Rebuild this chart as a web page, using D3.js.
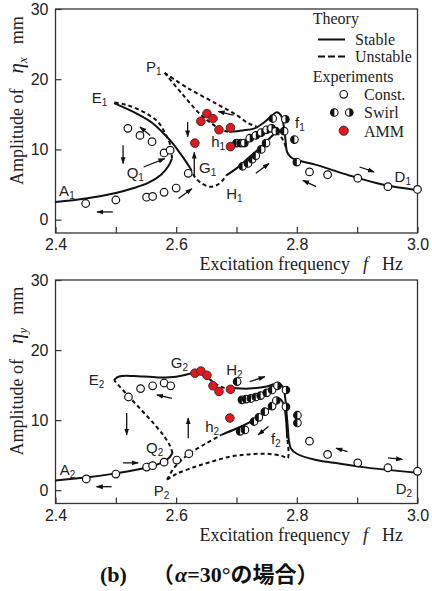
<!DOCTYPE html>
<html lang="ja">
<head>
<meta charset="utf-8">
<title>Amplitude response (alpha = 30 deg)</title>
<script src="https://cdn.jsdelivr.net/npm/d3@7"></script>
<style>
  body { margin: 0; background: #fff; }
  svg { display: block; }
  .tick text { font-family: "Liberation Sans", Arial, sans-serif; font-size: 16px; fill: #222; }
  .tick line { stroke: #333; stroke-width: 1.2; }
  .domain { display: none; }
  .frame { fill: none; stroke: #333; stroke-width: 1.3; }
  .axis-title { font-family: "Liberation Serif", "Times New Roman", serif; font-size: 18px; fill: #222; }
  .legend text { font-family: "Liberation Serif", "Times New Roman", serif; font-size: 16px; fill: #222; }
  .stable { fill: none; stroke: #111; stroke-width: 2; }
  .unstable { fill: none; stroke: #111; stroke-width: 2; stroke-dasharray: 4,3; }
  .lbl { font-family: "Liberation Sans", Arial, sans-serif; font-size: 15px; fill: #222; }
  .arrow { stroke: #111; stroke-width: 1.3; }
  .const { fill: #fff; stroke: #111; stroke-width: 1.2; }
  .amm { fill: #e8151d; stroke: #333; stroke-width: 1; }
  .caption { font-size: 22px; font-weight: bold; fill: #111; }
</style>
</head>
<body>
<div id="chart"></div>
<script>

var freqTicks = [2.4, 2.5, 2.6, 2.7, 2.8, 2.9, 3.0],
    freqLabels = [2.4, 2.6, 2.8, 3.0],
    ampTicks = [0, 10, 20, 30];

// ---- upper panel: eta_x ----
var xStable = [
  [[2.4,2.5],[2.45,3.0],[2.5,3.8],[2.53,4.5],[2.555,5.3],[2.575,6.4],[2.587,7.6],[2.593,8.7]],
  [[2.497,16.6],[2.53,15.3],[2.56,13.8],[2.58,12.2],[2.595,10.8],[2.607,9.4],[2.616,8.3],[2.623,7.4]],
  [[2.683,6.3],[2.70,7.3],[2.72,8.8],[2.74,10.3],[2.755,11.6],[2.765,12.4]],
  [[2.688,12.5],[2.71,12.7],[2.73,13.0],[2.745,13.8],[2.757,14.7],[2.767,15.3],[2.774,14.8],[2.778,13.5],
   [2.781,11.5],[2.784,9.6],[2.79,8.9],[2.80,8.5],[2.832,7.8],[2.887,6.3],[2.942,5.0],[3.0,4.2]]
];
var xUnstable = [
  [[2.593,8.7],[2.592,10.0],[2.588,11.2],[2.580,12.6],[2.570,13.9],[2.555,14.9],[2.535,15.8],[2.515,16.4],[2.497,16.7]],
  [[2.623,7.4],[2.63,6.2],[2.64,5.3],[2.655,4.7],[2.667,4.9],[2.676,5.5],[2.683,6.3]],
  [[2.765,12.4],[2.772,12.0],[2.779,11.0],[2.783,10.0]],
  [[2.581,20.9],[2.61,17.9],[2.64,15.0],[2.66,13.6],[2.675,12.8],[2.688,12.5]],
  [[2.581,20.9],[2.62,18.7],[2.667,16.5],[2.70,14.9],[2.72,13.7],[2.733,13.3]]
];
var xConst = [[2.45,2.3],[2.50,2.8],[2.551,3.2],[2.561,3.3],[2.58,3.9],[2.60,4.5],[2.62,6.6],
  [2.52,13.0],[2.54,12.0],[2.56,11.1],[2.58,9.5],[2.59,9.9],
  [2.821,6.8],[2.851,6.4],[2.901,5.9],[2.951,4.7],[3.0,4.3]];
var xSwirl = [[2.700,10.9,"L"],[2.707,10.9,"L"],[2.713,10.9,"R"],[2.710,7.6,"L"],[2.719,8.0,"L"],[2.726,8.6,"L"],
  [2.732,9.1,"L"],[2.741,10.0,"L"],[2.749,10.9,"L"],[2.722,11.6,"R"],[2.732,12.0,"R"],[2.741,12.4,"R"],
  [2.750,12.8,"R"],[2.758,13.0,"R"],[2.765,12.6,"R"],[2.760,14.4,"L"],[2.781,14.3,"R"],[2.779,12.6,"L"],
  [2.796,11.4,"L"],[2.800,8.2,"L"]];
var xAmm = [[2.631,10.9],[2.641,14.0],[2.651,15.1],[2.661,14.4],[2.671,12.8],[2.690,13.1],[2.690,10.4]];
var xArrows = [[2.495,1.1,2.469,1.1],[2.512,10.6,2.512,8.0],[2.546,7.5,2.581,8.7],[2.604,3.0,2.626,4.4],
  [2.630,6.2,2.630,9.6],[2.619,13.9,2.619,11.8],[2.557,12.0,2.540,13.2],[2.695,14.9,2.670,15.4],
  [2.732,6.6,2.754,8.0],[2.832,4.7,2.810,5.6],[2.904,7.5,2.928,6.8]];
var xLabels = [["A1",2.406,3.3],["Q1",2.518,5.9],["E1",2.460,16.6],["P1",2.550,21.0],["G1",2.638,6.6],
  ["H1",2.683,3.0],["h1",2.658,10.4],["f1",2.797,13.0],["D1",2.962,5.4]];

// ---- lower panel: eta_y ----
var yStable = [
  [[2.4,1.4],[2.45,1.8],[2.5,2.4],[2.55,3.2],[2.575,3.9],[2.588,4.6],[2.594,5.3]],
  [[2.497,15.7],[2.502,16.1],[2.51,16.3],[2.53,16.3],[2.57,16.1],[2.60,16.2],[2.635,16.9]],
  [[2.675,7.9],[2.70,8.8],[2.72,9.6],[2.74,10.6],[2.755,11.8],[2.765,12.9],[2.771,13.1],[2.777,12.5],[2.781,11.0],[2.784,7.4]],
  [[2.695,14.6],[2.72,14.5],[2.75,14.8],[2.765,15.2],[2.773,15.1],[2.778,14.5],[2.781,13],[2.783,11],[2.785,9],
   [2.787,7],[2.79,6.0],[2.80,5.2],[2.832,4.3],[2.87,3.8],[2.9,3.4],[2.95,2.9],[3.0,2.5]]
];
var yUnstable = [
  [[2.594,5.3],[2.59,6.3],[2.58,7.7],[2.565,9.3],[2.545,11.2],[2.52,13.5],[2.497,15.7]],
  [[2.635,16.9],[2.65,16.2],[2.665,15.2],[2.68,14.6],[2.695,14.6]],
  [[2.585,1.5],[2.595,3.0],[2.61,4.4],[2.625,5.4],[2.65,6.7],[2.675,7.9]],
  [[2.585,1.5],[2.60,2.3],[2.63,3.3],[2.66,4.1],[2.69,4.8],[2.72,5.1],[2.75,5.2],[2.775,4.9],[2.785,4.6],[2.784,7.4]]
];
var yConst = [[2.451,1.6],[2.50,2.3],[2.551,3.3],[2.561,3.5],[2.58,4.0],[2.601,4.3],[2.621,5.2],
  [2.521,13.3],[2.541,14.5],[2.561,14.9],[2.58,15.3],[2.591,14.9],
  [2.821,7.0],[2.851,5.1],[2.901,3.9],[2.951,3.2],[3.0,2.7]];
var ySwirl = [[2.701,15.5,"L"],[2.709,12.9,"L"],[2.716,13.0,"L"],[2.724,13.1,"L"],[2.732,13.3,"L"],[2.740,13.5,"L"],
  [2.750,13.9,"L"],[2.759,14.3,"L"],[2.768,14.9,"R"],[2.782,14.3,"R"],
  [2.706,8.4,"L"],[2.714,8.6,"L"],[2.729,9.8,"L"],[2.737,10.4,"L"],[2.747,11.2,"L"],[2.759,12.0,"L"],
  [2.766,12.8,"R"],[2.782,11.9,"R"],[2.801,10.7,"L"],[2.801,9.6,"L"]];
var yAmm = [[2.631,16.7],[2.641,17.0],[2.651,16.4],[2.661,14.9],[2.671,14.1],[2.690,14.4],[2.689,10.3]];
var yArrows = [[2.512,3.9,2.537,3.9],[2.493,0.5,2.468,0.5],[2.518,11.0,2.518,7.9],[2.620,7.4,2.620,10.3],
  [2.593,13.1,2.568,13.6],[2.722,15.5,2.747,16.2],[2.753,9.1,2.736,7.9],[2.884,5.5,2.865,6.0],[2.951,4.6,2.975,4.4]];
var yLabels = [["A2",2.407,2.2],["Q2",2.550,5.3],["E2",2.455,15.0],["P2",2.563,-0.9],["G2",2.591,17.4],
  ["H2",2.683,16.4],["h2",2.648,8.3],["f2",2.757,6.6],["D2",2.964,-0.6]];

var width = 432, height = 591;

var svg = d3.select("#chart").append("svg")
            .attr("width", width)
            .attr("height", height);

svg.append("defs").append("marker")
   .attr("id", "head")
   .attr("viewBox", "0 0 10 10")
   .attr("refX", 9).attr("refY", 5)
   .attr("markerUnits", "userSpaceOnUse")
   .attr("markerWidth", 7).attr("markerHeight", 7)
   .attr("orient", "auto")
   .append("path").attr("d", "M0,1.5L10,5L0,8.5Z").attr("fill", "#111");

var x = d3.scaleLinear().domain([2.4, 3.0]).range([55.5, 417.5]);

var panels = [
  {top: 9, bottom: 233, sym: "x", stable: xStable, unstable: xUnstable, cons: xConst, swirl: xSwirl,
   amm: xAmm, arrows: xArrows, labels: xLabels, legend: true},
  {top: 280, bottom: 503.5, sym: "y", stable: yStable, unstable: yUnstable, cons: yConst, swirl: ySwirl,
   amm: yAmm, arrows: yArrows, labels: yLabels, legend: false}
];

function drawSwirl(sel, side) {
  var r = 3.8;
  sel.append("circle").attr("r", r).attr("fill", "#fff").attr("stroke", "#111").attr("stroke-width", 1.1);
  sel.append("path")
     .attr("d", "M0," + (-r) + "A" + r + "," + r + " 0 0 " + (side === "L" ? 0 : 1) + " 0," + r + "Z")
     .attr("fill", "#111");
}

panels.forEach(function(p) {
  var y = d3.scaleLinear().domain([-1.9, 30]).range([p.bottom, p.top]);
  var g = svg.append("g");

  var line = d3.line()
               .x(function(d) { return x(d[0]); })
               .y(function(d) { return y(d[1]); })
               .curve(d3.curveCatmullRom.alpha(0.5));

  // axes with inward ticks
  g.append("g")
   .attr("transform", "translate(0," + p.bottom + ")")
   .call(d3.axisBottom(x).tickValues(freqTicks).tickSize(-6).tickPadding(6)
           .tickFormat(function(d) { return freqLabels.indexOf(d) >= 0 ? d3.format(".1f")(d) : ""; }));

  g.append("g")
   .attr("transform", "translate(" + x.range()[0] + ",0)")
   .call(d3.axisLeft(y).tickValues(ampTicks).tickSize(-6).tickPadding(7));

  g.append("rect").attr("class", "frame")
   .attr("x", x.range()[0]).attr("y", p.top)
   .attr("width", x.range()[1] - x.range()[0]).attr("height", p.bottom - p.top);

  // theory curves
  g.selectAll(".unstable").data(p.unstable).enter().append("path")
   .attr("class", "unstable").attr("d", line);
  g.selectAll(".stable").data(p.stable).enter().append("path")
   .attr("class", "stable").attr("d", line);

  // arrows
  g.selectAll(".arrow").data(p.arrows).enter().append("line")
   .attr("class", "arrow")
   .attr("x1", function(d) { return x(d[0]); }).attr("y1", function(d) { return y(d[1]); })
   .attr("x2", function(d) { return x(d[2]); }).attr("y2", function(d) { return y(d[3]); })
   .attr("marker-end", "url(#head)");

  // experiments
  g.selectAll(".const").data(p.cons).enter().append("circle")
   .attr("class", "const").attr("r", 3.8)
   .attr("cx", function(d) { return x(d[0]); }).attr("cy", function(d) { return y(d[1]); });

  g.selectAll(".swirl").data(p.swirl).enter().append("g")
   .attr("class", "swirl")
   .attr("transform", function(d) { return "translate(" + x(d[0]) + "," + y(d[1]) + ")"; })
   .each(function(d) { drawSwirl(d3.select(this), d[2]); });

  g.selectAll(".amm").data(p.amm).enter().append("circle")
   .attr("class", "amm").attr("r", 4.3)
   .attr("cx", function(d) { return x(d[0]); }).attr("cy", function(d) { return y(d[1]); });

  // point labels with subscripts
  p.labels.forEach(function(l) {
    var t = g.append("text").attr("class", "lbl").attr("x", x(l[1])).attr("y", y(l[2]));
    t.append("tspan").text(l[0].charAt(0));
    t.append("tspan").attr("font-size", 10).attr("dy", 3).text(l[0].slice(1));
  });

  // axis titles (gaps as dx, svg collapses spaces)
  var yt = g.append("text").attr("class", "axis-title")
            .attr("transform", "translate(23," + (p.bottom - 48) + ") rotate(-90)");
  yt.append("tspan").text("Amplitude of");
  yt.append("tspan").attr("dx", 15).attr("font-style", "italic").attr("font-size", 21).text("η");
  yt.append("tspan").attr("font-style", "italic").attr("font-size", 13).attr("dy", 4).text(p.sym);
  yt.append("tspan").attr("dx", 13).attr("dy", -4).text("mm");

  var xt = g.append("text").attr("class", "axis-title")
            .attr("text-anchor", "end")
            .attr("x", 403).attr("y", p.bottom + 37);
  xt.append("tspan").text("Excitation frequency");
  xt.append("tspan").attr("dx", 13).attr("font-style", "italic").text("f");
  xt.append("tspan").attr("dx", 14).text("Hz");

  if (p.legend) {
    var lg = g.append("g").attr("class", "legend");
    lg.append("text").attr("x", 312.7).attr("y", 24).text("Theory");
    lg.append("line").attr("class", "stable").attr("x1", 318).attr("x2", 345).attr("y1", 39.5).attr("y2", 39.5);
    lg.append("text").attr("x", 355).attr("y", 45).text("Stable");
    lg.append("line").attr("class", "unstable").attr("x1", 318).attr("x2", 345).attr("y1", 56.5).attr("y2", 56.5)
      .style("stroke-dasharray", "7,3");
    lg.append("text").attr("x", 355).attr("y", 62).text("Unstable");
    lg.append("text").attr("x", 312.7).attr("y", 81.5).text("Experiments");
    lg.append("circle").attr("class", "const").attr("r", 3.8).attr("cx", 343.7).attr("cy", 94.3);
    lg.append("text").attr("x", 364).attr("y", 100).text("Const.");
    drawSwirl(lg.append("g").attr("transform", "translate(334.3,112.5)"), "L");
    drawSwirl(lg.append("g").attr("transform", "translate(349.3,112.5)"), "R");
    lg.append("text").attr("x", 364).attr("y", 118).text("Swirl");
    lg.append("circle").attr("class", "amm").attr("r", 4.6).attr("cx", 343.7).attr("cy", 130.7);
    lg.append("text").attr("x", 364).attr("y", 136.5).text("AMM");
  }
});

// caption
var cap = svg.append("text").attr("class", "caption").attr("y", 582);
cap.append("tspan").attr("x", 100).attr("font-family", "'Liberation Serif', serif").text("(b)");
cap.append("tspan").attr("x", 152).attr("font-family", "'Noto Sans CJK JP', sans-serif").text("（");
cap.append("tspan").attr("x", 175).attr("font-family", "'Liberation Serif', serif").attr("font-style", "italic").text("α");
cap.append("tspan").attr("font-family", "'Liberation Serif', serif").text("=30°");
cap.append("tspan").attr("font-family", "'Noto Sans CJK JP', sans-serif").text("の場合）");

</script>
</body>
</html>
